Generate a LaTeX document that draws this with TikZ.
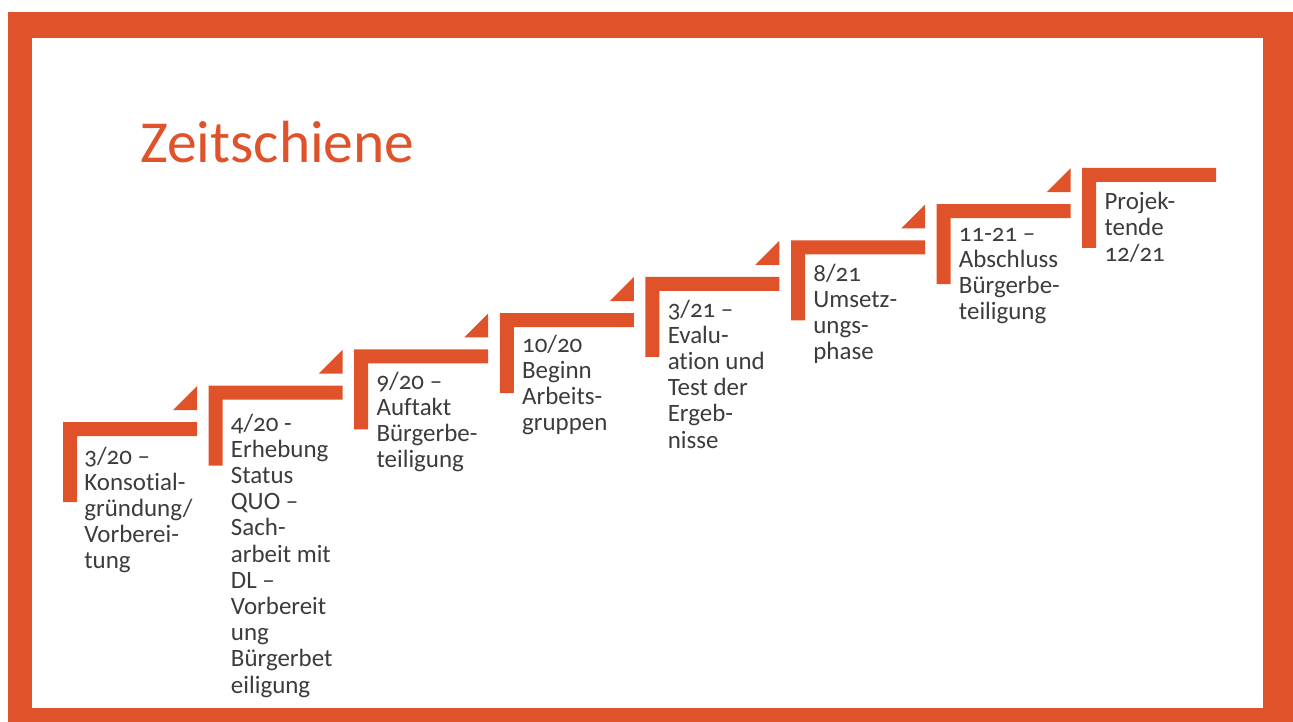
\documentclass[tikz,border=0pt]{standalone}
\usepackage{fontspec}
\setmainfont{Carlito}[Numbers=OldStyle, Ligatures={NoCommon}]
\usepackage{xcolor}
\usepackage{tikz}
\definecolor{FigOrange}{HTML}{E0532A}
\definecolor{FigText}{HTML}{3C3C3C}

\begin{document}
\begin{tikzpicture}[x=0.02cm, y=-0.02cm,
  stairstep/.pic={\fill[FigOrange] (0,0) -- (134,0) -- (134,14) -- (14,14) -- (14,80) -- (0,80) -- cycle;},
  stairtip/.pic={\fill[FigOrange] (134,-12) -- (110,-12) -- (134,-36) -- cycle;},
  steptext/.style={anchor=north west, inner sep=0pt, align=left, text=FigText, font=\fontsize{14.2}{14.9}\selectfont, execute at begin node=\strut},
  titletext/.style={anchor=base west, inner sep=0pt, text=FigOrange, font=\fontsize{33.9}{40}\selectfont}
]
\useasboundingbox (0,0) rectangle (1293,722);
% frame
\fill[FigOrange] (8,12) rectangle (1293,722);
\fill[white] (32,38) rectangle (1263,708);

\node[titletext] (title) at (140,163) {Zeitschiene};

% stairs
\pic at (63,422) {stairstep};
\pic at (63,422) {stairtip};
\pic at (208.6,385.7) {stairstep};
\pic at (208.6,385.7) {stairtip};
\pic at (354.2,349.4) {stairstep};
\pic at (354.2,349.4) {stairtip};
\pic at (499.8,313.1) {stairstep};
\pic at (499.8,313.1) {stairtip};
\pic at (645.4,276.8) {stairstep};
\pic at (645.4,276.8) {stairtip};
\pic at (791,240.5) {stairstep};
\pic at (791,240.5) {stairtip};
\pic at (936.6,204.2) {stairstep};
\pic at (936.6,204.2) {stairtip};
\pic at (1082.2,167.9) {stairstep};

% labels (first baseline 18.4 below the node top)
\node[steptext] (t1) at (84,446.6) {3/20 –\\Konsotial-\\gründung/\\Vorberei-\\tung};
\node[steptext] (t2) at (230.6,413.6) {4/20 -\\Erhebung\\Status\\QUO –\\Sach-\\arbeit mit\\DL –\\Vorbereit\\ung\\Bürgerbet\\eiligung};
\node[steptext] (t3) at (376.2,371.6) {9/20 –\\Auftakt\\Bürgerbe-\\teiligung};
\node[steptext] (t4) at (521.8,334.6) {10/20\\Beginn\\Arbeits-\\gruppen};
\node[steptext] (t5) at (667.4,299.6) {3/21 –\\Evalu-\\ation und\\Test der\\Ergeb-\\nisse};
\node[steptext] (t6) at (813,263.6) {8/21\\Umsetz-\\ungs-\\phase};
\node[steptext] (t7) at (958.6,227.6) {11-21 –\\Abschluss\\Bürgerbe-\\teiligung};
\node[steptext] (t8) at (1104.2,191.6) {Projek-\\tende\\12/21};
\end{tikzpicture}
\end{document}
